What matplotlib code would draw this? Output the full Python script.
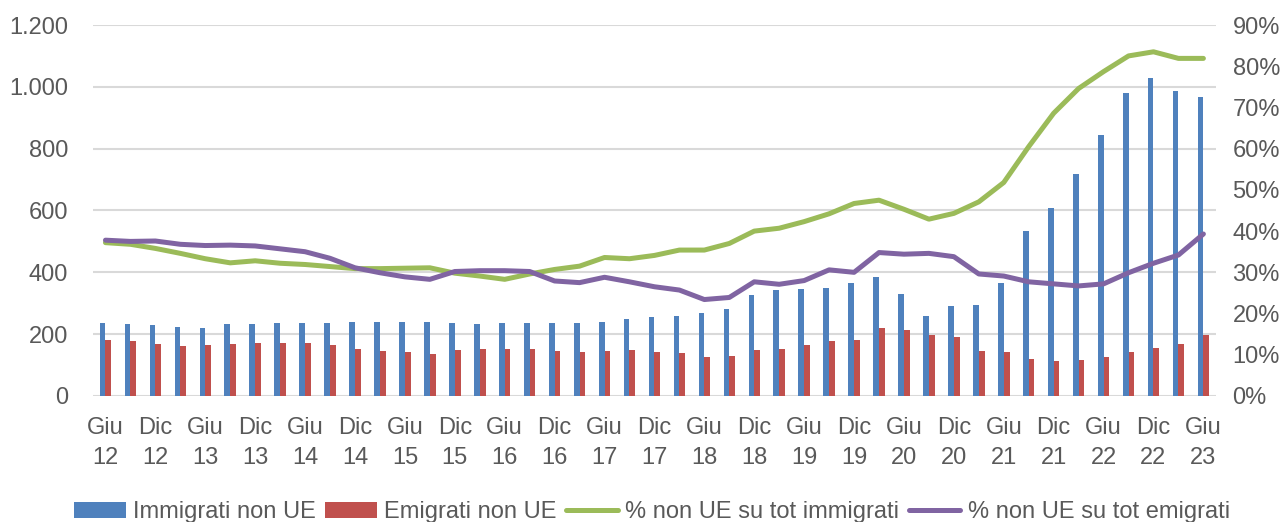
import matplotlib
matplotlib.use("Agg")
import matplotlib.pyplot as plt
from matplotlib.ticker import FuncFormatter
import numpy as np

# ---- Data (quarterly, Giu 12 -> Giu 23) ----
tick_labels = ["Giu\n12", "Dic\n12", "Giu\n13", "Dic\n13", "Giu\n14", "Dic\n14",
               "Giu\n15", "Dic\n15", "Giu\n16", "Dic\n16", "Giu\n17", "Dic\n17",
               "Giu\n18", "Dic\n18", "Giu\n19", "Dic\n19", "Giu\n20", "Dic\n20",
               "Giu\n21", "Dic\n21", "Giu\n22", "Dic\n22", "Giu\n23"]

immigrati = [237, 232, 230, 223, 221, 232, 233, 235, 235, 237, 239, 238, 239, 238, 237,
             233, 235, 236, 235, 237, 239, 249, 256, 260, 267, 282, 328, 344, 345, 348,
             366, 386, 329, 259, 292, 295, 367, 533, 608, 718, 845, 981, 1027, 985, 966]

emigrati = [180, 177, 169, 163, 165, 169, 171, 170, 171, 165, 153, 146, 141, 137, 149,
            153, 153, 153, 146, 142, 147, 150, 143, 138, 125, 128, 150, 153, 165, 178,
            180, 219, 213, 197, 190, 144, 141, 119, 113, 116, 126, 143, 154, 169, 198]

pct_immigrati = [37.2, 36.8, 35.8, 34.6, 33.3, 32.3, 32.8, 32.2, 31.9, 31.4, 30.9, 30.9,
                 31.0, 31.1, 29.8, 29.1, 28.3, 29.6, 30.7, 31.5, 33.6, 33.3, 34.1, 35.4,
                 35.4, 37.0, 40.0, 40.7, 42.3, 44.2, 46.7, 47.5, 45.3, 42.9, 44.3, 47.1,
                 51.8, 60.5, 68.6, 74.6, 78.7, 82.5, 83.5, 81.9, 81.9]

pct_emigrati = [37.8, 37.5, 37.6, 36.8, 36.5, 36.6, 36.4, 35.7, 35.0, 33.4, 31.1, 29.9,
                28.9, 28.3, 30.2, 30.4, 30.4, 30.2, 27.9, 27.5, 28.8, 27.7, 26.5, 25.7,
                23.4, 23.9, 27.7, 27.1, 28.0, 30.6, 30.0, 34.8, 34.4, 34.6, 33.8, 29.6,
                29.1, 27.7, 27.2, 26.7, 27.2, 29.9, 32.2, 34.2, 39.3]

# ---- Style ----
plt.rcParams['font.family'] = ['Liberation Sans', 'DejaVu Sans']
text_col = '#595959'
grid_col = '#D9D9D9'

fig = plt.figure(figsize=(12.88, 5.22), dpi=100)
ax = fig.add_axes([0.0722, 0.2414, 0.8718, 0.7107])
ax2 = ax.twinx()

x = np.arange(len(immigrati))
w = 0.23
ax.bar(x - w / 2, immigrati, width=w, color='#4F81BD', label='Immigrati non UE', zorder=2)
ax.bar(x + w / 2, emigrati, width=w, color='#C0504D', label='Emigrati non UE', zorder=2)

pi = np.array(pct_immigrati) / 100
pe = np.array(pct_emigrati) / 100
ax2.plot(x, pi, color='#9BBB59', lw=3.6, solid_capstyle='round', solid_joinstyle='round',
         label='% non UE su tot immigrati')
ax2.plot(x, pe, color='#8064A2', lw=3.6, solid_capstyle='round', solid_joinstyle='round',
         label='% non UE su tot emigrati')

# ---- Axes ----
ax.set_xlim(-0.5, len(x) - 0.5)
ax.set_ylim(0, 1200)
ax.set_yticks(range(0, 1201, 200))
ax.yaxis.set_major_formatter(FuncFormatter(lambda v, p: f"{int(v):,}".replace(",", ".")))
ax2.set_ylim(0, 0.9)
ax2.set_yticks(np.arange(0, 0.91, 0.1))
ax2.yaxis.set_major_formatter(FuncFormatter(lambda v, p: f"{v * 100:.0f}%"))

ax.set_xticks(x[::2])
ax.set_xticklabels(tick_labels)
for t in ax.get_xticklabels():
    t.set_linespacing(1.5)

ax.grid(axis='y', color=grid_col, lw=1.5, zorder=0)
ax.set_axisbelow(True)
for a in (ax, ax2):
    for s in a.spines.values():
        s.set_visible(False)
ax.tick_params(axis='x', length=0, pad=15, labelsize=17, labelcolor=text_col)
ax.tick_params(axis='y', length=0, pad=18, labelsize=17, labelcolor=text_col)
ax2.tick_params(axis='y', length=0, pad=12, labelsize=17, labelcolor=text_col)

# ---- Legend ----
h1, l1 = ax.get_legend_handles_labels()
h2, l2 = ax2.get_legend_handles_labels()
leg = fig.legend(h1 + h2, l1 + l2, loc='center', bbox_to_anchor=(0.506, 0.019), ncol=4,
                 frameon=False, fontsize=17, handlelength=2.2, handleheight=0.65,
                 handletextpad=0.3, columnspacing=0.4, borderaxespad=0)
for t in leg.get_texts():
    t.set_color(text_col)

fig.savefig('out.png', dpi=100)
